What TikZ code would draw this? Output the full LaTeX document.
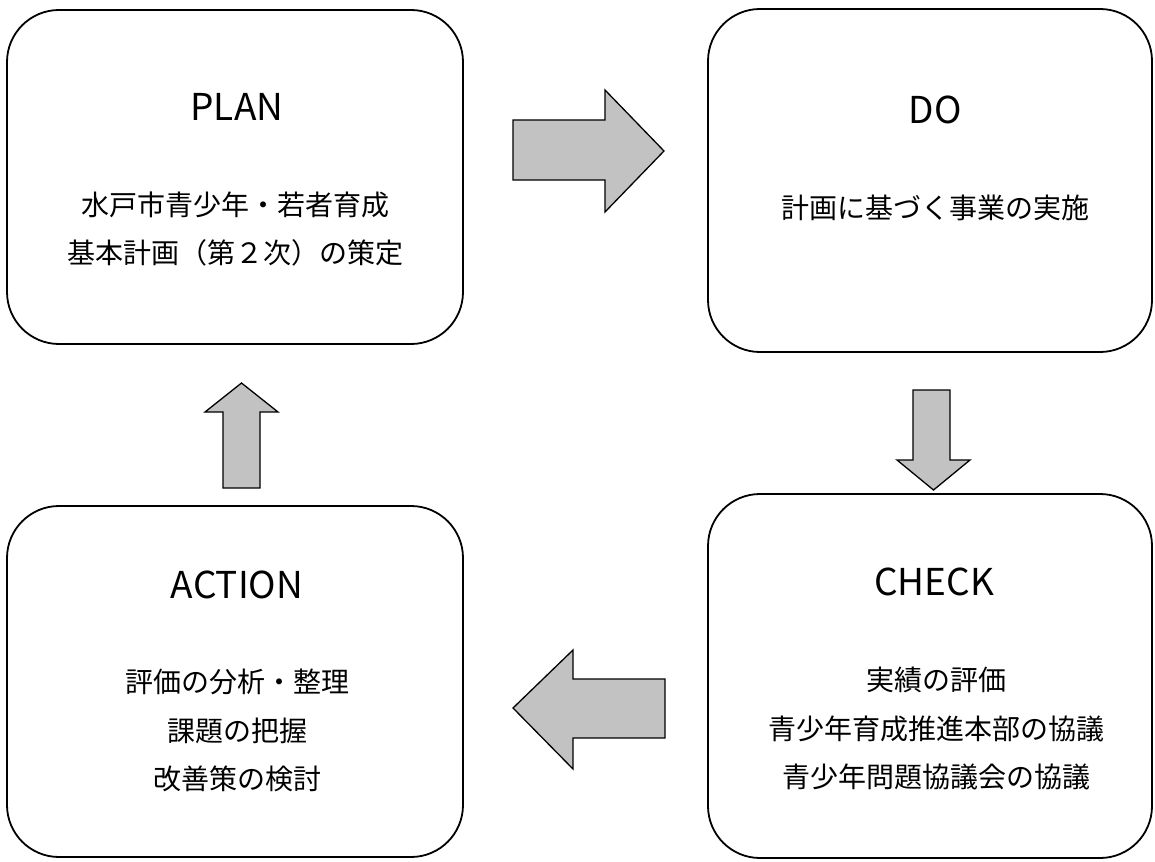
\documentclass[tikz,border=0pt]{standalone}
\usepackage{fontspec}
\setmainfont{Noto Sans CJK JP}
\tikzset{
  phase/.style={draw=black, line width=1.8pt, rounded corners=52pt, fill=white, inner sep=0pt},
  title/.style={font=\fontsize{37}{40}\selectfont, inner sep=0pt},
  body/.style={font=\fontsize{28}{48.5}\selectfont, align=center, inner sep=0pt},
  blockarrow/.style={draw=black, line width=1.3pt, fill=black!24, line join=miter}
}
\begin{document}
\begin{tikzpicture}[x=1pt, y=-1pt]
\useasboundingbox (0,0) rectangle (1155,861);
% boxes
\node[phase, minimum width=456pt, minimum height=334pt] (plan) at (235,177) {};
\node[phase, minimum width=444pt, minimum height=343pt] (do) at (930,180.5) {};
\node[phase, minimum width=456pt, minimum height=351pt] (action) at (235,681.5) {};
\node[phase, minimum width=444pt, minimum height=364pt] (check) at (930,676) {};
% texts
\node[title] (plant) at (237,107) {PLAN};
\node[body] (planb) at (235,229) {水戸市青少年・若者育成\\基本計画（第２次）の策定};
\node[title] (dot) at (935,110) {DO};
\node[body] (dob) at (935,208) {計画に基づく事業の実施};
\node[title] (actiont) at (237,585) {ACTION};
\node[body] (actionb) at (237,730.5) {評価の分析・整理\\課題の把握\\改善策の検討};
\node[title] (checkt) at (934,582) {CHECK};
\node[body] (checkb) at (936,728.5) {実績の評価\\青少年育成推進本部の協議\\青少年問題協議会の協議};
% block arrows
\draw[blockarrow] (513,120) -- (605,120) -- (605,90) -- (664,151) -- (605,212) -- (605,180) -- (513,180) -- cycle;
\draw[blockarrow] (913,390) -- (950,390) -- (950,460) -- (970,460) -- (933.5,490) -- (897,460) -- (913,460) -- cycle;
\draw[blockarrow] (665,679) -- (573,679) -- (573,650) -- (513,708) -- (573,769) -- (573,738) -- (665,738) -- cycle;
\draw[blockarrow] (223,488) -- (223,412) -- (205,412) -- (241.5,383) -- (278,412) -- (260,412) -- (260,488) -- cycle;
\end{tikzpicture}
\end{document}
